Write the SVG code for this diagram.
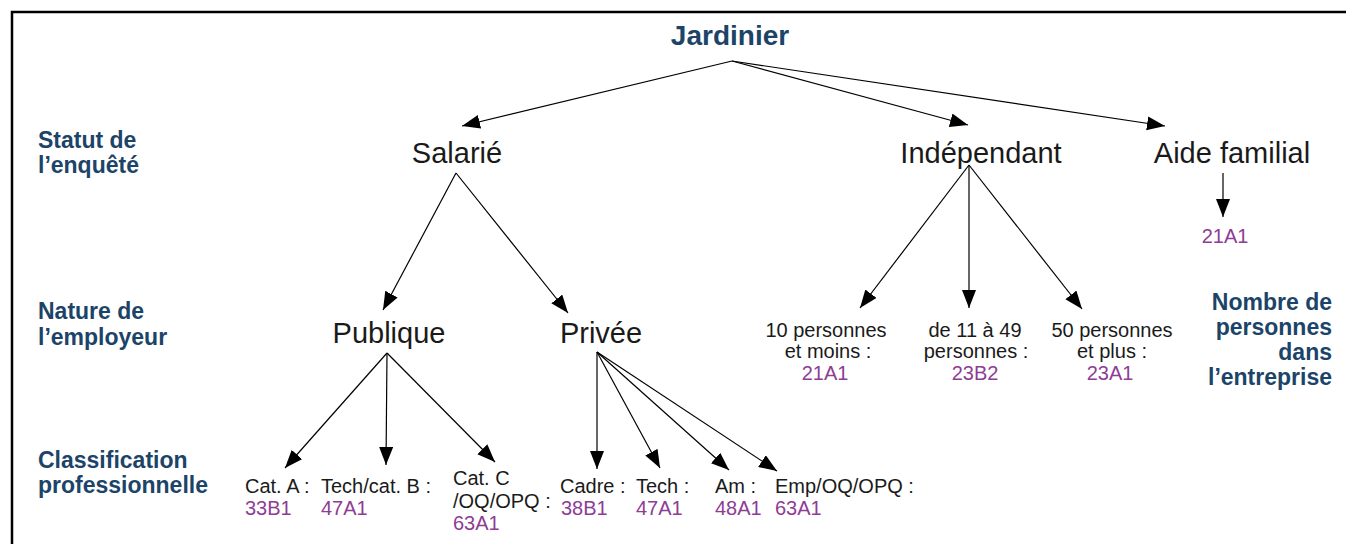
<svg xmlns="http://www.w3.org/2000/svg" width="1346" height="544" viewBox="0 0 1346 544">
<style>
.lbl{font-family:"Liberation Sans",Arial,sans-serif;font-weight:bold;font-size:23px;fill:#1c4468}
.title{font-family:"Liberation Sans",Arial,sans-serif;font-weight:bold;font-size:28px;fill:#1c4468}
.n2{font-family:"Liberation Sans",Arial,sans-serif;font-size:29px;fill:#1a1a1a}
.t{font-family:"Liberation Sans",Arial,sans-serif;font-size:20px;fill:#1a1a1a}
.c{font-family:"Liberation Sans",Arial,sans-serif;font-size:20px;fill:#8e3c94}
.mid{text-anchor:middle}
.end{text-anchor:end}
.ln{stroke:#000;stroke-width:1.2;fill:none;marker-end:url(#ah)}
</style>
<defs>
<marker id="ah" markerUnits="userSpaceOnUse" markerWidth="19" markerHeight="15" refX="18" refY="7" orient="auto">
<path d="M0,0 L18,7 L0,14 z" fill="#000"/>
</marker>
</defs>
<rect width="1346" height="544" fill="#fff"/>
<g id="frame" stroke="#000" stroke-width="2.5" fill="none">
<path d="M12,544 L12,12 L1346,12"/>
</g>
<g id="axis-labels">
<text class="lbl" x="38" y="148">Statut de</text>
<text class="lbl" x="38" y="173">l’enquêté</text>
<text class="lbl" x="38" y="319">Nature de</text>
<text class="lbl" x="38" y="345">l’employeur</text>
<text class="lbl" x="38" y="468">Classification</text>
<text class="lbl" x="38" y="493">professionnelle</text>
<text class="lbl end" x="1332" y="310">Nombre de</text>
<text class="lbl end" x="1332" y="335">personnes</text>
<text class="lbl end" x="1332" y="360">dans</text>
<text class="lbl end" x="1332" y="385">l’entreprise</text>
</g>
<g id="connectors">
<line class="ln" x1="732" y1="61" x2="462" y2="126"/>
<line class="ln" x1="732" y1="61" x2="968" y2="125"/>
<line class="ln" x1="732" y1="61" x2="1165" y2="126"/>
<line class="ln" x1="456" y1="173" x2="383" y2="310"/>
<line class="ln" x1="456" y1="173" x2="568" y2="313"/>
<line class="ln" x1="969" y1="165" x2="860" y2="308"/>
<line class="ln" x1="969" y1="165" x2="969" y2="308"/>
<line class="ln" x1="969" y1="165" x2="1082" y2="309"/>
<line class="ln" x1="1223" y1="173" x2="1223" y2="217"/>
<line class="ln" x1="387" y1="353" x2="285" y2="468"/>
<line class="ln" x1="387" y1="353" x2="386" y2="465"/>
<line class="ln" x1="387" y1="353" x2="495" y2="462"/>
<line class="ln" x1="597" y1="352" x2="597" y2="469"/>
<line class="ln" x1="597" y1="352" x2="660" y2="468"/>
<line class="ln" x1="597" y1="352" x2="729" y2="470"/>
<line class="ln" x1="597" y1="352" x2="777" y2="471"/>
</g>
<g id="jardinier"><text class="title mid" x="730" y="45">Jardinier</text></g>
<g id="salarie"><text class="n2 mid" x="457" y="163">Salarié</text></g>
<g id="independant"><text class="n2 mid" x="981" y="163">Indépendant</text></g>
<g id="aide-familial"><text class="n2 mid" x="1232" y="163">Aide familial</text></g>
<g id="aide-familial-code"><text class="c mid" x="1225" y="243">21A1</text></g>
<g id="publique"><text class="n2 mid" x="389" y="343">Publique</text></g>
<g id="privee"><text class="n2 mid" x="601" y="343">Privée</text></g>
<g id="ind-10">
<text class="t mid" x="826" y="337">10 personnes</text>
<text class="t mid" x="828" y="358">et moins :</text>
<text class="c mid" x="825" y="380">21A1</text>
</g>
<g id="ind-11-49">
<text class="t mid" x="975" y="337">de 11 à 49</text>
<text class="t mid" x="976" y="358">personnes :</text>
<text class="c mid" x="975" y="380">23B2</text>
</g>
<g id="ind-50">
<text class="t mid" x="1112" y="337">50 personnes</text>
<text class="t mid" x="1112" y="358">et plus :</text>
<text class="c mid" x="1110" y="380">23A1</text>
</g>
<g id="cat-a">
<text class="t" x="245" y="493">Cat. A :</text>
<text class="c" x="245" y="515">33B1</text>
</g>
<g id="tech-cat-b">
<text class="t" x="321" y="493">Tech/cat. B :</text>
<text class="c" x="321" y="515">47A1</text>
</g>
<g id="cat-c">
<text class="t" x="453" y="485">Cat. C</text>
<text class="t" x="453" y="508">/OQ/OPQ :</text>
<text class="c" x="453" y="530">63A1</text>
</g>
<g id="cadre">
<text class="t" x="560" y="493">Cadre :</text>
<text class="c" x="561" y="515">38B1</text>
</g>
<g id="tech">
<text class="t" x="636" y="493">Tech :</text>
<text class="c" x="636" y="515">47A1</text>
</g>
<g id="am">
<text class="t" x="715" y="493">Am :</text>
<text class="c" x="715" y="515">48A1</text>
</g>
<g id="emp">
<text class="t" x="775" y="493">Emp/OQ/OPQ :</text>
<text class="c" x="775" y="515">63A1</text>
</g>
</svg>
